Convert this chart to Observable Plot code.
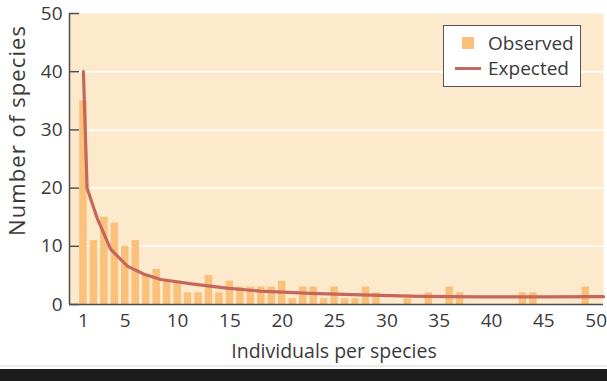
<!DOCTYPE html>
<html>
<head>
<meta charset="utf-8">
<script src="https://cdn.jsdelivr.net/npm/d3@7"></script>
<script src="https://cdn.jsdelivr.net/npm/@observablehq/plot@0.6"></script>
<style>
  html, body { margin: 0; padding: 0; background: #ffffff; }
  #wrap { position: relative; width: 607px; height: 381px; overflow: hidden; font-family: "Open Sans", sans-serif; }
  #legend { position: absolute; left: 443px; top: 25px; width: 136px; height: 60px; border: 1.5px solid #555; background: #ffffff; }
  .lg-row { position: absolute; left: 0; display: flex; align-items: center; font-size: 19px; color: #3a3a3a; }
  .sw-rect { display: inline-block; width: 12px; height: 12px; }
  .sw-line { display: inline-block; width: 26px; height: 3px; }
  #bottombar { position: absolute; left: 0; top: 369px; width: 607px; height: 12px; background: #1c1c1c; }
  #greyline { position: absolute; left: 0; top: 365px; width: 607px; height: 2px; background: #ececec; }
</style>
</head>
<body>
<div id="wrap">
  <div id="chart"></div>
  <div id="legend"></div>
  <div id="greyline"></div>
  <div id="bottombar"></div>
</div>
<script>
// ---- data ----
const individuals = [1,2,3,4,5,6,7,8,9,10,11,12,13,14,15,16,17,18,19,20,21,22,23,24,25,26,27,28,29,30,31,32,33,34,35,36,37,38,39,40,41,42,43,44,45,46,47,48,49,50];
const observedCounts = [35,11,15,14,10,11,5,6,4,4,2,2,5,2,4,3,3,3,3,4,1,3,3,1,3,1,1,3,2,0,0,1,0,2,0,3,2,0,0,0,0,0,2,2,0,0,0,0,3,0];
const expectedX = [1, 1.35, 2.3, 3.6, 5.2, 6.8, 8.4, 11.5, 14.7, 17.9, 22.7, 28.4, 33.2, 39, 45, 50.7];
const expectedY = [40, 20, 14.9, 9.5, 6.6, 5.2, 4.3, 3.5, 2.8, 2.3, 1.9, 1.6, 1.4, 1.3, 1.3, 1.35];
const xTicks = [1,5,10,15,20,25,30,35,40,45,50];
const yTicks = [0,10,20,30,40,50];
const gridTicks = [10,20,30,40];
const seriesNames = ["Observed", "Expected"];
const xTitle = "Individuals per species";
const yTitle = "Number of species";

// ---- style ----
const bgColor = "#fde9cb";
const barColor = "#fbc07a";
const lineColor = "#c5675c";
const axisColor = "#4e4e4e";
const textColor = "#3a3a3a";
const xDomain = [-0.33, 50.7];

const observed = individuals.map((n, i) => ({n, count: observedCounts[i]})).filter(d => d.count > 0);
const expected = expectedX.map((x, i) => ({x, y: expectedY[i]}));

const chart = Plot.plot({
  width: 607,
  height: 366,
  marginLeft: 69,
  marginRight: 4,
  marginTop: 13,
  marginBottom: 62,
  style: {fontFamily: "Open Sans, sans-serif", fontSize: "19px", color: textColor, background: "transparent"},
  x: {type: "linear", domain: xDomain},
  y: {domain: [0, 50]},
  marks: [
    Plot.frame({fill: bgColor, stroke: null}),
    Plot.gridY(gridTicks, {stroke: "#ffffff", strokeOpacity: 1, strokeWidth: 1.5}),
    Plot.rectY(observed, {x1: d => d.n - 0.5, x2: d => d.n + 0.5, y: "count", insetLeft: 1.5, insetRight: 1.5, fill: barColor}),
    Plot.line(expected, {x: "x", y: "y", stroke: lineColor, strokeWidth: 3.2, strokeLinejoin: "round"}),
    Plot.axisY({ticks: yTicks, tickSize: -10, tickPadding: 17, stroke: axisColor, strokeWidth: 1.5, fill: textColor, fontSize: 19, label: null}),
    Plot.axisX({ticks: xTicks, tickSize: 0, tickPadding: 9, fill: textColor, fontSize: 19, label: null}),
    Plot.ruleX([xDomain[0]], {stroke: axisColor, strokeWidth: 1.5}),
    Plot.ruleY([0], {stroke: axisColor, strokeWidth: 1.5})
  ]
});
document.getElementById("chart").appendChild(chart);

const svg = d3.select(chart);
svg.append("text")
  .attr("transform", "translate(19,131) rotate(-90)")
  .attr("text-anchor", "middle")
  .attr("dominant-baseline", "middle")
  .attr("fill", textColor)
  .attr("textLength", 210)
  .attr("lengthAdjust", "spacing")
  .style("font-size", "22px")
  .text(yTitle);
svg.append("text")
  .attr("x", 334)
  .attr("y", 353)
  .attr("text-anchor", "middle")
  .attr("dominant-baseline", "middle")
  .attr("fill", textColor)
  .style("font-size", "19.5px")
  .text(xTitle);

// legend
const legend = document.getElementById("legend");
const row1 = document.createElement("div");
row1.className = "lg-row";
row1.style.top = "4px";
row1.style.left = "18px";
row1.innerHTML = `<span class="sw-rect" style="background:${barColor}"></span><span style="margin-left:14px">${seriesNames[0]}</span>`;
const row2 = document.createElement("div");
row2.className = "lg-row";
row2.style.top = "29px";
row2.style.left = "11px";
row2.innerHTML = `<span class="sw-line" style="background:${lineColor}"></span><span style="margin-left:7px">${seriesNames[1]}</span>`;
legend.appendChild(row1);
legend.appendChild(row2);
</script>
</body>
</html>
